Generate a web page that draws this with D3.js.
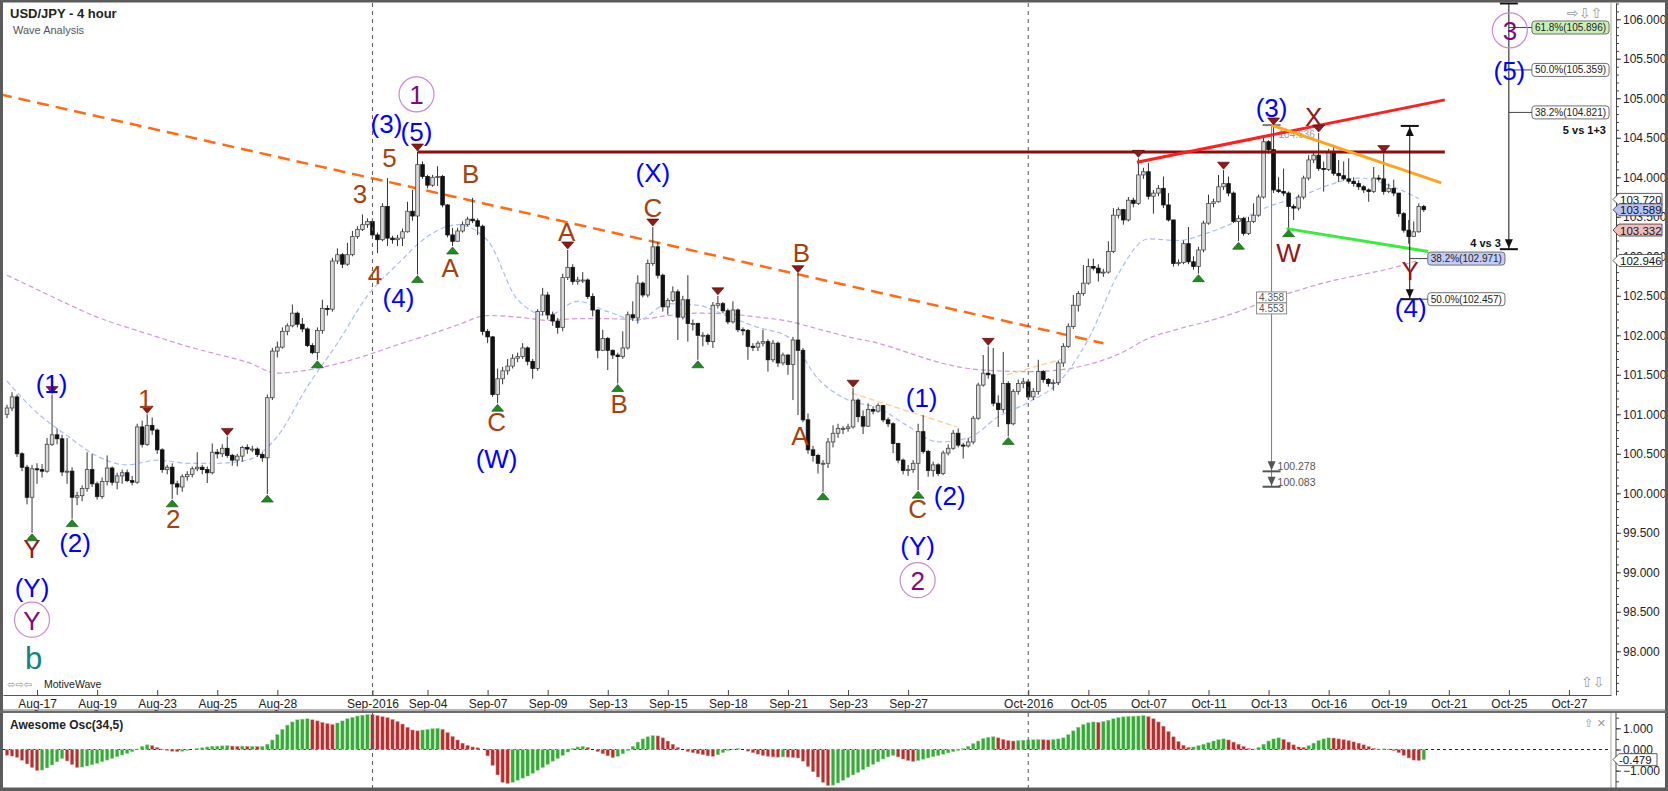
<!DOCTYPE html>
<html>
<head>
<meta charset="utf-8">
<script src="https://cdn.jsdelivr.net/npm/d3@7"></script>
<style>
  body { margin: 0; background: #fff; overflow: hidden; }
  svg { display: block; font-family: "Liberation Sans", Arial, sans-serif; }
</style>
</head>
<body>
<svg id="chart"></svg>
<script>
// ---- price data (4h bars, Aug 16 - Oct 20 2016), open = previous close ----
const firstOpen = 101.00;
const closes = [
  101.08,101.22,100.50,100.33,99.95,100.31,100.30,100.28,100.62,100.74,
  100.69,100.27,100.28,99.95,99.97,100.06,100.30,100.12,99.96,100.15,
  100.32,100.14,100.22,100.26,100.16,100.14,100.84,100.62,100.86,100.80,
  100.55,100.30,100.33,100.12,100.08,100.21,100.24,100.31,100.33,100.30,
  100.26,100.52,100.50,100.57,100.48,100.42,100.47,100.58,100.56,100.56,
  100.49,100.45,101.21,101.80,101.85,102.05,102.12,102.28,102.14,102.08,
  101.87,101.78,102.06,102.34,102.33,102.94,103.02,102.90,103.02,103.25,
  103.34,103.40,103.44,103.27,103.21,103.63,103.23,103.21,103.23,103.31,
  103.57,103.51,104.16,104.01,103.90,104.00,104.01,103.65,103.27,103.19,
  103.32,103.40,103.47,103.45,103.38,102.05,101.98,101.25,101.45,101.55,
  101.61,101.71,101.73,101.84,101.67,101.58,102.30,102.51,102.26,102.18,
  102.10,102.73,102.86,102.68,102.70,102.70,102.49,102.32,101.81,101.96,
  101.81,101.75,101.73,101.84,102.26,102.22,102.66,102.51,102.91,103.12,
  102.76,102.36,102.44,102.55,102.23,102.45,102.15,102.15,102.00,102.00,
  101.92,102.38,102.40,102.31,102.17,102.32,102.07,102.06,101.86,101.85,
  101.90,101.92,101.69,101.90,101.65,101.75,101.63,101.94,101.81,100.93,
  100.55,100.48,100.38,100.38,100.65,100.76,100.82,100.82,100.84,101.18,
  100.97,100.85,101.06,101.04,101.11,100.93,100.88,100.63,100.42,100.29,
  100.30,100.38,100.78,100.53,100.29,100.36,100.25,100.51,100.57,100.76,
  100.61,100.60,100.65,100.95,101.37,101.52,101.50,101.14,101.06,101.39,
  100.88,101.29,101.39,101.41,101.22,101.29,101.54,101.44,101.39,101.40,
  101.65,101.86,102.11,102.38,102.53,102.66,102.87,102.85,102.79,102.80,
  103.06,103.52,103.59,103.46,103.71,103.67,104.03,104.07,103.76,103.80,
  103.86,103.65,103.46,102.91,102.92,103.16,102.93,102.87,103.08,103.42,
  103.67,103.69,103.88,103.92,103.80,103.44,103.48,103.29,103.44,103.52,
  103.75,104.45,104.35,103.84,103.82,103.80,103.63,103.61,103.75,103.99,
  104.22,104.28,104.11,104.10,104.32,104.05,104.02,103.98,103.95,103.92,
  103.88,103.84,103.82,103.99,103.98,103.82,103.86,103.80,103.54,103.33,
  103.25,103.31,103.63,103.59
];
const highs = [
  101.12,101.28,101.25,100.52,100.36,100.36,100.38,100.37,100.70,101.25,
  100.82,100.74,100.70,100.33,100.02,100.10,100.52,100.50,100.15,100.20,
  100.48,100.34,100.26,100.30,100.30,100.22,100.88,100.92,101.00,100.96,
  100.82,100.57,100.36,100.38,100.16,100.24,100.28,100.34,100.52,100.36,
  100.34,100.63,100.56,100.62,100.72,100.50,100.50,100.60,100.62,100.60,
  100.58,100.52,101.25,101.84,101.92,102.10,102.15,102.39,102.30,102.22,
  102.10,101.90,102.10,102.45,102.38,102.98,103.10,103.04,103.17,103.32,
  103.38,103.53,103.48,103.48,103.30,103.67,103.99,103.26,103.27,103.35,
  103.69,103.84,104.32,104.20,104.03,104.03,104.14,104.03,103.66,103.36,
  103.36,103.44,103.50,103.74,103.48,103.40,102.08,101.99,101.58,101.60,
  101.70,101.76,101.78,101.90,101.86,101.70,102.33,102.60,102.55,102.30,
  102.22,102.78,103.08,102.90,102.74,102.80,102.72,102.53,102.33,102.07,
  101.98,101.82,101.78,102.05,102.30,102.43,102.76,102.68,102.96,103.37,
  103.18,102.78,102.47,102.62,102.58,102.50,102.76,102.20,102.16,102.04,
  102.02,102.42,102.50,102.42,102.34,102.43,102.34,102.10,102.08,101.90,
  101.93,102.07,101.95,101.94,101.92,101.78,101.76,101.98,102.78,101.84,
  101.01,100.60,100.50,100.42,100.70,100.86,100.88,100.85,100.88,101.33,
  101.20,101.05,101.14,101.10,101.14,101.12,100.96,100.90,100.64,100.44,
  100.36,100.42,100.88,100.99,100.55,100.40,100.38,100.54,100.62,100.80,
  100.82,100.64,100.70,100.98,101.40,101.75,101.86,101.84,101.24,101.79,
  101.42,101.32,101.44,101.46,101.44,101.33,101.69,101.56,101.46,101.44,
  101.68,101.90,102.15,102.51,102.56,102.89,102.97,102.97,102.90,102.84,
  103.19,103.61,103.62,103.60,103.75,103.74,104.24,104.12,104.18,103.84,
  103.90,104.01,103.80,103.46,102.96,103.20,103.37,103.00,103.12,103.45,
  103.78,103.73,104.03,104.09,104.01,103.82,103.52,103.50,103.50,103.67,
  103.78,104.51,104.47,104.65,104.00,104.11,103.82,103.66,103.78,104.02,
  104.28,104.32,104.56,104.20,104.36,104.41,104.22,104.20,104.24,104.00,
  103.96,103.90,103.86,104.13,104.03,104.30,103.92,103.97,103.80,103.56,
  103.46,103.44,103.67,103.65
];
const lows = [
  100.95,101.04,100.46,100.28,99.86,99.50,100.12,100.20,100.26,100.60,
  100.62,100.22,100.12,99.68,99.85,99.90,100.02,100.08,99.92,99.93,
  100.10,100.10,100.05,100.12,100.14,100.10,100.12,100.58,100.60,100.74,
  100.50,100.26,100.24,99.93,99.98,100.02,100.16,100.20,100.28,100.24,
  100.13,100.24,100.44,100.46,100.45,100.35,100.34,100.40,100.50,100.52,
  100.46,100.40,99.99,101.18,101.72,101.83,102.00,102.10,102.10,102.04,
  101.85,101.76,101.69,102.02,102.25,102.30,102.90,102.85,102.88,103.00,
  103.22,103.32,103.36,103.24,103.04,103.19,103.13,103.16,103.13,103.13,
  103.30,103.45,102.77,103.98,103.86,103.88,103.89,103.62,103.24,103.13,
  103.19,103.30,103.38,103.42,103.27,102.00,101.90,101.22,101.14,101.38,
  101.50,101.58,101.66,101.70,101.62,101.45,101.55,102.25,102.20,102.12,
  102.02,102.05,102.70,102.64,102.64,102.66,102.46,102.24,101.71,101.80,
  101.56,101.70,101.39,101.70,101.82,102.18,102.15,102.48,102.48,102.88,
  102.72,102.30,102.26,102.42,101.94,102.20,101.92,102.06,101.69,101.86,
  101.88,101.84,102.34,102.28,102.14,102.15,102.04,102.00,101.69,101.80,
  101.80,101.86,101.54,101.66,101.60,101.62,101.50,101.18,100.99,100.90,
  100.50,100.40,100.25,100.02,100.32,100.58,100.70,100.75,100.78,100.82,
  100.90,100.75,100.84,101.00,101.02,100.90,100.84,100.51,100.38,100.24,
  100.22,100.26,100.04,100.50,100.21,100.21,100.22,100.23,100.48,100.55,
  100.58,100.44,100.58,100.62,100.93,101.35,101.45,101.10,100.84,101.02,
  100.72,100.86,101.25,101.33,101.18,101.18,101.25,101.40,101.35,101.30,
  101.37,101.60,101.84,102.08,102.30,102.50,102.64,102.82,102.68,102.74,
  102.78,103.04,103.48,103.40,103.44,103.62,103.65,103.98,103.72,103.54,
  103.76,103.61,103.44,102.87,102.88,102.90,102.90,102.83,102.78,103.05,
  103.40,103.62,103.68,103.84,103.76,103.42,103.19,103.26,103.27,103.42,
  103.50,103.73,104.30,103.80,103.80,103.76,103.35,103.46,103.58,103.72,
  103.96,104.18,104.08,103.82,104.08,104.02,103.94,103.96,103.92,103.88,
  103.84,103.80,103.69,103.80,103.95,103.78,103.80,103.76,103.50,103.30,
  103.16,103.25,103.30,103.56
];

// Awesome Oscillator (34,5), one value per bar
const aoValues = [
  -0.27,-0.31,-0.37,-0.51,-0.68,-0.85,-0.99,-0.97,-0.87,-0.73,
  -0.58,-0.42,-0.54,-0.71,-0.85,-0.83,-0.78,-0.72,-0.65,-0.58,
  -0.50,-0.42,-0.34,-0.26,-0.18,-0.10,0.02,0.15,0.22,0.18,
  0.10,0.02,-0.04,-0.08,-0.10,-0.08,-0.04,0.00,0.05,0.08,
  0.12,0.15,0.16,0.17,0.18,0.16,0.15,0.16,0.15,0.15,
  0.14,0.15,0.25,0.45,0.70,0.95,1.15,1.30,1.40,1.43,
  1.45,1.40,1.35,1.28,1.22,1.18,1.25,1.35,1.45,1.52,
  1.58,1.62,1.65,1.64,1.60,1.55,1.50,1.42,1.32,1.20,
  1.05,0.92,0.88,0.92,0.95,0.98,1.00,0.95,0.80,0.62,
  0.45,0.30,0.20,0.12,0.08,0.00,-0.30,-0.75,-1.20,-1.55,
  -1.60,-1.55,-1.45,-1.35,-1.25,-1.12,-0.98,-0.85,-0.70,-0.55,
  -0.42,-0.28,-0.12,0.05,0.12,0.15,0.10,0.00,-0.10,-0.20,
  -0.30,-0.38,-0.32,-0.20,-0.05,0.15,0.35,0.50,0.60,0.65,
  0.64,0.55,0.40,0.25,0.10,0.00,-0.10,-0.15,-0.20,-0.25,
  -0.30,-0.32,-0.25,-0.15,-0.05,0.02,0.05,0.00,-0.08,-0.15,
  -0.22,-0.28,-0.32,-0.35,-0.36,-0.35,-0.36,-0.38,-0.40,-0.55,
  -0.80,-1.05,-1.30,-1.55,-1.70,-1.68,-1.58,-1.45,-1.32,-1.20,
  -1.08,-0.95,-0.82,-0.70,-0.58,-0.45,-0.35,-0.28,-0.35,-0.45,
  -0.52,-0.56,-0.52,-0.46,-0.40,-0.34,-0.28,-0.22,-0.16,-0.10,
  -0.04,0.05,0.15,0.28,0.40,0.52,0.58,0.60,0.55,0.48,
  0.42,0.40,0.42,0.44,0.45,0.46,0.47,0.46,0.45,0.47,
  0.50,0.55,0.70,0.88,1.05,1.18,1.26,1.30,1.28,1.32,
  1.38,1.45,1.50,1.54,1.56,1.57,1.58,1.60,1.55,1.45,
  1.30,1.10,0.85,0.60,0.38,0.20,0.10,0.12,0.18,0.25,
  0.32,0.40,0.46,0.50,0.45,0.35,0.25,0.15,0.05,0.02,
  0.10,0.25,0.40,0.50,0.55,0.48,0.35,0.22,0.12,0.10,
  0.18,0.30,0.42,0.50,0.55,0.54,0.50,0.46,0.42,0.36,
  0.30,0.22,0.14,0.06,0.02,0.03,0.02,-0.05,-0.15,-0.28,
  -0.40,-0.50,-0.52,-0.48
];

// moving averages, sampled every maStep bars
const maStep = 6;
const maFast = [101.42,101.02,100.73,100.47,100.36,100.42,100.38,100.38,100.42,100.72,
  101.35,101.90,102.50,102.90,103.25,103.40,103.20,102.45,102.25,102.43,
  102.30,102.19,102.40,102.38,102.24,102.10,101.98,101.45,101.18,101.08,
  100.85,100.65,100.70,100.97,101.15,101.40,101.95,102.78,103.22,103.20,
  103.30,103.45,103.63,103.75,103.90,103.99,103.90,103.73];
const maSlow = [102.76,102.58,102.40,102.23,102.10,101.98,101.86,101.76,101.66,101.52,
  101.56,101.64,101.75,101.88,102.00,102.13,102.25,102.23,102.19,102.21,
  102.21,102.20,102.25,102.28,102.27,102.23,102.18,102.08,101.98,101.90,
  101.78,101.66,101.58,101.55,101.54,101.56,101.63,101.76,101.96,102.08,
  102.18,102.30,102.45,102.57,102.68,102.76,102.84,102.95];

// date axis (bar index of first bar of the day)
const tickIdx = [6,18,30,42,54,73,84,96,108,120,132,144,156,168,180,204,216,228,240,252,264,276,288,300,312];
const tickLabels = ["Aug-17","Aug-19","Aug-23","Aug-25","Aug-28","Sep-2016","Sep-04","Sep-07","Sep-09","Sep-13",
  "Sep-15","Sep-18","Sep-21","Sep-23","Sep-27","Oct-2016","Oct-05","Oct-07","Oct-11","Oct-13",
  "Oct-16","Oct-19","Oct-21","Oct-25","Oct-27"];
const monthLines = [73, 204];
const priceTicks = d3.range(98, 106.001, 0.5);
const oscTicks = [-1, 0, 1];

// swing markers
const peakBars = [9,28,44,82,112,129,142,158,169,196,226,243,253,262,275];
const troughBars = [5,13,33,52,62,82,89,98,122,138,163,182,200,238,246,256];

// wave labels: text, bar, price, kind
const waveLabels = [
  ["(1)",8.9,101.40,"blue"], ["1",27.6,101.21,"brown"], ["Y",5,99.31,"dred"],
  ["(2)",13.6,99.38,"blue"], ["2",33.2,99.69,"brown"], ["(Y)",5,98.82,"blue"],
  ["Y",5,98.40,"circle"], ["b",5.3,97.92,"teal"],
  ["3",70.5,103.80,"brown"], ["5",76.4,104.26,"brown"], ["4",73.5,102.77,"brown"],
  ["(3)",75.8,104.69,"blue"], ["(5)",81.8,104.58,"blue"], ["1",81.8,105.05,"circle"],
  ["(4)",78.2,102.49,"blue"], ["A",88.5,102.87,"brown"], ["B",92.6,104.05,"brown"],
  ["C",97.8,100.91,"brown"], ["(W)",97.8,100.45,"blue"], ["A",111.8,103.32,"brown"],
  ["(X)",129,104.07,"blue"], ["C",129,103.63,"brown"], ["B",122.3,101.14,"brown"],
  ["B",158.7,103.06,"brown"], ["A",158.4,100.74,"brown"],
  ["(1)",182.7,101.22,"blue"], ["(2)",188.3,99.98,"blue"], ["C",181.9,99.81,"brown"],
  ["(Y)",181.9,99.35,"blue"], ["2",181.9,98.90,"circle"],
  ["(3)",252.6,104.89,"blue"], ["X",261,104.77,"dred"], ["W",256,103.06,"dred"],
  ["Y",280.3,102.83,"dred"], ["(4)",280.4,102.36,"blue"],
  ["3",300.2,105.86,"circle"], ["(5)",300.1,105.36,"blue"]
];

// drawn lines: [bar, price] pairs
const dashedTrend = [[-1.4,105.05],[219,101.90]];
const resistanceLine = [[82,104.32],[287.2,104.32]];
const upperChannel = [[225.7,104.19],[287.2,104.98]];
const fallingLine = [[252.6,104.66],[286.5,103.93]];
const supportLine = [[255.6,103.35],[283.9,103.06]];
const minorDash1 = [[168.7,101.27],[189.7,100.84]];
const minorDash2 = [[199.7,101.50],[211.4,101.71]];

// fib / measure tools
const grayMeasure = { bar: 252.6, top: 104.66, levels: [100.278, 100.083], boxes: ["4.358","4.553"], boxPrice: 102.41 };
const wave4Measure = { bar: 280.2, top: 104.65, bottom: 102.457 };
const wave4Levels = [102.971, 102.457];
const wave4Pct = ["38.2%", "50.0%"];
const wave5Measure = { bar: 300, top: 106.2, bottom: 103.09 };
const wave5Levels = [105.896, 105.359, 104.821];
const wave5Pct = ["61.8%", "50.0%", "38.2%"];

// price tags on the axis
const priceTags = [103.720, 103.589, 103.332, 102.946];
const aoLast = -0.479;

class WaveChart {
  constructor(_config) {
    this.config = {
      parentElement: _config.parentElement,
      width: 1668,
      height: 791,
      plot: { left: 3, right: 1611, top: 3, bottom: 695 },
      osc: { top: 713, bottom: 788 },
      axisX: 1616
    };
    this.initVis();
  }

  initVis() {
    let vis = this;
    const c = vis.config;

    vis.svg = d3.select(c.parentElement)
      .attr('width', c.width)
      .attr('height', c.height);

    vis.xScale = d3.scaleLinear().domain([-0.8, 320.4]).range([c.plot.left, c.plot.right]);
    vis.yScale = d3.scaleLinear().domain([97.447, 106.206]).range([c.plot.bottom, c.plot.top]);
    vis.oscScale = d3.scaleLinear().domain([-1, 1]).range([770.7, 728.3]);

    vis.svg.append('rect').attr('width', c.width).attr('height', c.height).attr('fill', '#fff');

    vis.svg.append('defs').append('clipPath').attr('id', 'plot-clip')
      .append('rect')
      .attr('x', c.plot.left).attr('y', c.plot.top)
      .attr('width', c.plot.right - c.plot.left).attr('height', c.plot.bottom - c.plot.top);

    vis.plot = vis.svg.append('g').attr('clip-path', 'url(#plot-clip)');
    vis.osc = vis.svg.append('g');
    vis.axes = vis.svg.append('g');

    vis.renderVis();
  }

  line(pts) {
    let vis = this;
    return d3.line().x(d => vis.xScale(d[0])).y(d => vis.yScale(d[1]))(pts);
  }

  renderVis() {
    let vis = this;
    const c = vis.config;
    const x = vis.xScale, y = vis.yScale;

    // month separators (main + oscillator)
    monthLines.forEach(m => {
      vis.svg.append('line')
        .attr('x1', x(m)).attr('x2', x(m)).attr('y1', c.plot.top).attr('y2', c.plot.bottom)
        .attr('stroke', '#555').attr('stroke-dasharray', '4,4');
      vis.svg.append('line')
        .attr('x1', x(m)).attr('x2', x(m)).attr('y1', c.osc.top).attr('y2', c.osc.bottom)
        .attr('stroke', '#555').attr('stroke-dasharray', '4,4');
    });

    // moving averages
    const maLine = d3.line().curve(d3.curveMonotoneX)
      .x((d, k) => x(k * maStep)).y(d => y(d));
    vis.plot.append('path').attr('d', maLine(maSlow))
      .attr('fill', 'none').attr('stroke', '#cf9ad3').attr('stroke-width', 1.2).attr('stroke-dasharray', '5,3');
    vis.plot.append('path').attr('d', maLine(maFast))
      .attr('fill', 'none').attr('stroke', '#a9bdfb').attr('stroke-width', 1.2).attr('stroke-dasharray', '5,3');

    // long dashed trendline + faint helper lines
    vis.plot.append('path').attr('d', vis.line(dashedTrend))
      .attr('stroke', '#ff6a13').attr('stroke-width', 2.5).attr('stroke-dasharray', '12,7').attr('fill', 'none');
    [minorDash1, minorDash2].forEach(p => {
      vis.plot.append('path').attr('d', vis.line(p))
        .attr('stroke', '#ffcb96').attr('stroke-width', 1.3).attr('stroke-dasharray', '6,3').attr('fill', 'none');
    });

    // measuring line behind candles (gray)
    vis.renderGrayMeasure();

    // candles
    vis.candles = closes.map((cl, k) => {
      const o = k === 0 ? firstOpen : closes[k - 1];
      return { i: k, o: o, c: cl, h: Math.max(highs[k], o, cl), l: Math.min(lows[k], o, cl) };
    });
    const bodyW = 3.6;
    vis.plot.selectAll('.wick').data(vis.candles).join('line')
      .attr('class', 'wick')
      .attr('x1', d => x(d.i)).attr('x2', d => x(d.i))
      .attr('y1', d => y(d.h)).attr('y2', d => y(d.l))
      .attr('stroke', '#333').attr('stroke-width', 1);
    vis.plot.selectAll('.body').data(vis.candles).join('rect')
      .attr('class', 'body')
      .attr('x', d => x(d.i) - bodyW / 2)
      .attr('width', bodyW)
      .attr('y', d => y(Math.max(d.o, d.c)))
      .attr('height', d => Math.max(1, Math.abs(y(d.o) - y(d.c))))
      .attr('fill', d => d.c >= d.o ? '#d9d9d9' : '#111')
      .attr('stroke', d => d.c >= d.o ? '#444' : '#111')
      .attr('stroke-width', 0.8);

    // solid lines on top
    vis.plot.append('path').attr('d', vis.line(resistanceLine))
      .attr('stroke', '#8e0d0d').attr('stroke-width', 3).attr('fill', 'none');
    vis.plot.append('path').attr('d', vis.line(upperChannel))
      .attr('stroke', '#ff1f1f').attr('stroke-width', 3).attr('fill', 'none');
    vis.plot.append('path').attr('d', vis.line(fallingLine))
      .attr('stroke', '#ffa31a').attr('stroke-width', 3).attr('fill', 'none');
    vis.plot.append('path').attr('d', vis.line(supportLine))
      .attr('stroke', '#38ec38').attr('stroke-width', 3).attr('fill', 'none');

    // swing markers
    vis.plot.selectAll('.peak').data(peakBars).join('path')
      .attr('class', 'peak')
      .attr('d', i => `M${x(i) - 6},${y(vis.candles[i].h) - 8}L${x(i) + 6},${y(vis.candles[i].h) - 8}L${x(i)},${y(vis.candles[i].h) - 1}Z`)
      .attr('fill', '#8b1a1a').attr('stroke', '#4d0000').attr('stroke-width', 0.6);
    vis.plot.selectAll('.trough').data(troughBars).join('path')
      .attr('class', 'trough')
      .attr('d', i => `M${x(i) - 6},${y(vis.candles[i].l) + 8}L${x(i) + 6},${y(vis.candles[i].l) + 8}L${x(i)},${y(vis.candles[i].l) + 1}Z`)
      .attr('fill', '#1e8c1e').attr('stroke', '#0b4d0b').attr('stroke-width', 0.6);

    vis.renderMeasures();
    vis.renderLabels();
    vis.renderAxes();
    vis.renderOsc();
    vis.renderFrame();
  }

  renderGrayMeasure() {
    let vis = this;
    const x = vis.xScale, y = vis.yScale;
    const m = grayMeasure;
    const gx = x(m.bar);
    const g = vis.plot.append('g');
    g.append('line').attr('x1', gx).attr('x2', gx)
      .attr('y1', y(m.top)).attr('y2', y(m.levels[1]))
      .attr('stroke', '#7a7a7a').attr('stroke-width', 1);
    g.append('line').attr('x1', gx - 9).attr('x2', gx + 9).attr('y1', y(m.top)).attr('y2', y(m.top))
      .attr('stroke', '#7a7a7a').attr('stroke-width', 2);
    m.levels.forEach(v => {
      const ly = y(v);
      g.append('path').attr('d', `M${gx - 4},${ly - 10}L${gx + 4},${ly - 10}L${gx},${ly - 1}Z`).attr('fill', '#555');
      g.append('line').attr('x1', gx - 9).attr('x2', gx + 9).attr('y1', ly).attr('y2', ly)
        .attr('stroke', '#555').attr('stroke-width', 2);
      g.append('text').attr('x', gx + 6).attr('y', ly - 5).attr('font-size', 10.5).attr('fill', '#555')
        .attr('dominant-baseline', 'central').text(v.toFixed(3));
    });
    // stacked distance boxes
    m.boxes.forEach((t, k) => {
      const by = y(m.boxPrice) - 11 + k * 11;
      g.append('rect').attr('x', gx - 15).attr('y', by).attr('width', 30).attr('height', 11)
        .attr('fill', '#fff').attr('stroke', '#8a8a8a');
      g.append('text').attr('x', gx).attr('y', by + 5.8).attr('text-anchor', 'middle')
        .attr('dominant-baseline', 'central').attr('font-size', 10).attr('fill', '#555').text(t);
    });
    g.append('text').attr('x', gx + 7).attr('y', y(104.54)).attr('font-size', 10).attr('fill', '#9a9a9a')
      .attr('dominant-baseline', 'central').text('104.636');
  }

  fibBox(g, bx, by, text, fill) {
    const t = g.append('text').attr('x', bx + 3).attr('y', by).attr('font-size', 10)
      .attr('dominant-baseline', 'central').attr('fill', '#222').text(text);
    const w = t.node().getComputedTextLength() + 6;
    g.insert('rect', 'text').attr('x', bx).attr('y', by - 6.5).attr('width', w).attr('height', 13)
      .attr('rx', 3).attr('fill', fill).attr('stroke', '#707070');
  }

  renderMeasures() {
    let vis = this;
    const x = vis.xScale, y = vis.yScale;
    const g = vis.svg.append('g');

    // wave 4 retracement tool
    const a = wave4Measure, ax = x(a.bar);
    g.append('line').attr('x1', ax).attr('x2', ax).attr('y1', y(a.top)).attr('y2', y(a.bottom))
      .attr('stroke', '#111').attr('stroke-width', 1);
    g.append('line').attr('x1', ax - 9).attr('x2', ax + 9).attr('y1', y(a.top)).attr('y2', y(a.top))
      .attr('stroke', '#111').attr('stroke-width', 2);
    g.append('path').attr('d', `M${ax - 4},${y(a.top) + 10}L${ax + 4},${y(a.top) + 10}L${ax},${y(a.top) + 1}Z`).attr('fill', '#111');
    g.append('line').attr('x1', ax - 9).attr('x2', ax + 9).attr('y1', y(a.bottom)).attr('y2', y(a.bottom))
      .attr('stroke', '#111').attr('stroke-width', 2);
    g.append('path').attr('d', `M${ax - 4},${y(a.bottom) - 10}L${ax + 4},${y(a.bottom) - 10}L${ax},${y(a.bottom) - 1}Z`).attr('fill', '#111');
    wave4Levels.forEach((v, k) => {
      g.append('line').attr('x1', ax).attr('x2', x(283.8)).attr('y1', y(v)).attr('y2', y(v))
        .attr('stroke', '#444').attr('stroke-width', 1);
      vis.fibBox(g, x(283.8), y(v), `${wave4Pct[k]}(${v.toFixed(3)})`, k === 0 ? '#c5cdf7' : '#fff');
    });

    // wave 5 projection tool
    const b = wave5Measure, bx = x(b.bar);
    g.append('line').attr('x1', bx).attr('x2', bx).attr('y1', y(b.top)).attr('y2', y(b.bottom))
      .attr('stroke', '#111').attr('stroke-width', 1);
    g.append('line').attr('x1', bx - 9).attr('x2', bx + 9).attr('y1', y(b.top)).attr('y2', y(b.top))
      .attr('stroke', '#111').attr('stroke-width', 2);
    g.append('line').attr('x1', bx - 9).attr('x2', bx + 9).attr('y1', y(b.bottom)).attr('y2', y(b.bottom))
      .attr('stroke', '#111').attr('stroke-width', 2);
    g.append('path').attr('d', `M${bx - 4},${y(b.bottom) - 10}L${bx + 4},${y(b.bottom) - 10}L${bx},${y(b.bottom) - 1}Z`).attr('fill', '#111');
    wave5Levels.forEach((v, k) => {
      g.append('line').attr('x1', bx).attr('x2', x(304.6)).attr('y1', y(v)).attr('y2', y(v))
        .attr('stroke', '#444').attr('stroke-width', 1);
      vis.fibBox(g, x(304.6), y(v), `${wave5Pct[k]}(${v.toFixed(3)})`, k === 0 ? '#c9efb9' : '#fff');
    });

    g.append('text').attr('x', x(319.4)).attr('y', y(104.60)).attr('text-anchor', 'end')
      .attr('font-size', 11).attr('font-weight', 'bold').attr('fill', '#111')
      .attr('dominant-baseline', 'central').text('5 vs 1+3');
    g.append('text').attr('x', x(298.4)).attr('y', y(103.17)).attr('text-anchor', 'end')
      .attr('font-size', 11).attr('font-weight', 'bold').attr('fill', '#111')
      .attr('dominant-baseline', 'central').text('4 vs 3');
  }

  renderLabels() {
    let vis = this;
    const x = vis.xScale, y = vis.yScale;
    const colors = { blue: '#0000ff', brown: '#a3420f', dred: '#8e1a1a', circle: '#7e0a80', teal: '#0f8282' };
    const g = vis.svg.append('g');
    waveLabels.forEach(([t, i, p, kind]) => {
      if (kind === 'circle') {
        g.append('circle').attr('cx', x(i)).attr('cy', y(p)).attr('r', 17.5)
          .attr('fill', 'none').attr('stroke', '#c88bcc').attr('stroke-width', 1.2);
      }
      g.append('text')
        .attr('x', x(i)).attr('y', y(p) + 1)
        .attr('text-anchor', 'middle').attr('dominant-baseline', 'central')
        .attr('font-size', kind === 'teal' ? 31 : 26)
        .attr('fill', colors[kind])
        .text(t);
    });
  }

  renderAxes() {
    let vis = this;
    const c = vis.config;

    // price axis
    const minor = d3.range(97.5, 106.201, 0.1);
    vis.axes.append('g').attr('transform', `translate(${c.axisX},0)`)
      .call(d3.axisRight(vis.yScale).tickValues(minor).tickSize(3).tickFormat('').tickSizeOuter(0))
      .call(g => g.select('.domain').attr('stroke', '#444'))
      .call(g => g.selectAll('.tick line').attr('stroke', '#444'));
    vis.axes.append('g').attr('transform', `translate(${c.axisX},0)`)
      .call(d3.axisRight(vis.yScale).tickValues(priceTicks).tickSize(5).tickPadding(2)
        .tickFormat(d3.format('.3f')).tickSizeOuter(0))
      .call(g => g.select('.domain').remove())
      .call(g => g.selectAll('.tick line').attr('stroke', '#444'))
      .call(g => g.selectAll('text').attr('font-size', 12).attr('fill', '#222')
        .attr('font-family', '"Liberation Sans", Arial, sans-serif'));

    // date axis, ticks pointing up into the plot
    vis.axes.append('g').attr('transform', `translate(0,${c.plot.bottom})`)
      .call(d3.axisBottom(vis.xScale).tickValues(tickIdx).tickSize(-5).tickPadding(4)
        .tickFormat((d, k) => tickLabels[k]).tickSizeOuter(0))
      .call(g => g.select('.domain').attr('stroke', '#555'))
      .call(g => g.selectAll('.tick line').attr('stroke', '#444'))
      .call(g => g.selectAll('text').attr('font-size', 12).attr('fill', '#222')
        .attr('font-family', '"Liberation Sans", Arial, sans-serif'));
    vis.axes.append('line').attr('x1', 0).attr('x2', c.width).attr('y1', 709.5).attr('y2', 709.5)
      .attr('stroke', '#b8b8b8');

    // tags on the price axis
    const tagFill = ['#fff', '#b9c1f3', '#f3bcbc', '#fff'];
    priceTags.forEach((v, k) => vis.tag(vis.yScale(v), v.toFixed(3), tagFill[k]));
  }

  tag(ty, text, fill) {
    let vis = this;
    const x0 = vis.config.axisX - 3;
    vis.axes.append('path')
      .attr('d', `M${x0},${ty}L${x0 + 6},${ty - 6}L${x0 + 49},${ty - 6}L${x0 + 49},${ty + 6}L${x0 + 6},${ty + 6}Z`)
      .attr('fill', fill).attr('stroke', '#333').attr('stroke-width', 0.8);
    vis.axes.append('text').attr('x', x0 + 7).attr('y', ty + 0.5).attr('dominant-baseline', 'central')
      .attr('font-size', 11.5).attr('fill', '#111').text(text);
  }

  renderOsc() {
    let vis = this;
    const c = vis.config;
    const x = vis.xScale, o = vis.oscScale;

    vis.osc.append('line').attr('x1', c.plot.left).attr('x2', c.plot.right)
      .attr('y1', o(0)).attr('y2', o(0)).attr('stroke', '#222').attr('stroke-dasharray', '3,3');

    const bars = aoValues.map((v, k) => ({ i: k, v: v, up: k > 0 && v >= aoValues[k - 1] }));
    vis.osc.selectAll('.ao').data(bars).join('rect')
      .attr('class', 'ao')
      .attr('x', d => x(d.i) - 1.7)
      .attr('width', 3.4)
      .attr('y', d => Math.min(o(0), o(d.v)))
      .attr('height', d => Math.abs(o(d.v) - o(0)))
      .attr('fill', d => d.up ? '#38a838' : '#b3302f')
      .attr('stroke', d => d.up ? '#8fd68f' : '#e29a9a')
      .attr('stroke-width', 0.5);

    vis.osc.append('g').attr('transform', `translate(${c.axisX},0)`)
      .call(d3.axisRight(o).tickValues(d3.range(-1.5, 1.51, 0.5)).tickSize(3).tickFormat('').tickSizeOuter(0))
      .call(g => g.select('.domain').remove())
      .call(g => g.selectAll('.tick line').attr('stroke', '#444'));
    vis.osc.append('g').attr('transform', `translate(${c.axisX},0)`)
      .call(d3.axisRight(o).tickValues(oscTicks).tickSize(5).tickPadding(2)
        .tickFormat(d3.format('.3f')).tickSizeOuter(0))
      .call(g => g.select('.domain').remove())
      .call(g => g.selectAll('.tick line').attr('stroke', '#444'))
      .call(g => g.selectAll('text').attr('font-size', 12).attr('fill', '#222')
        .attr('font-family', '"Liberation Sans", Arial, sans-serif'));
    vis.osc.append('line').attr('x1', c.axisX).attr('x2', c.axisX).attr('y1', c.osc.top).attr('y2', c.osc.bottom)
      .attr('stroke', '#444');

    // last value tag
    const ty = o(aoLast), x0 = c.axisX - 3;
    vis.osc.append('path')
      .attr('d', `M${x0},${ty}L${x0 + 6},${ty - 6}L${x0 + 44},${ty - 6}L${x0 + 44},${ty + 6}L${x0 + 6},${ty + 6}Z`)
      .attr('fill', '#fff').attr('stroke', '#333').attr('stroke-width', 0.8);
    vis.osc.append('text').attr('x', x0 + 6).attr('y', ty + 0.5).attr('dominant-baseline', 'central')
      .attr('font-size', 11.5).attr('fill', '#111').text(aoLast.toFixed(3));

    vis.osc.append('text').attr('x', 10).attr('y', 724.5).attr('font-size', 12).attr('font-weight', 'bold')
      .attr('fill', '#222').attr('dominant-baseline', 'central').text('Awesome Osc(34,5)');
    vis.osc.append('text').attr('x', 1584).attr('y', 723).attr('font-size', 11)
      .attr('font-family', '"DejaVu Sans", sans-serif').attr('fill', '#999')
      .attr('dominant-baseline', 'central').text('⇧ ✕');
  }

  renderFrame() {
    let vis = this;
    const c = vis.config;
    const f = vis.svg.append('g');
    // panel borders
    f.append('line').attr('x1', c.plot.right).attr('x2', c.plot.right).attr('y1', c.plot.top).attr('y2', c.plot.bottom)
      .attr('stroke', '#c9c9b9').attr('stroke-width', 1.5);
    f.append('line').attr('x1', c.plot.right).attr('x2', c.plot.right).attr('y1', c.osc.top).attr('y2', c.osc.bottom)
      .attr('stroke', '#c9c9b9').attr('stroke-width', 1.5);
    f.append('rect').attr('x', 0).attr('y', 0).attr('width', c.width).attr('height', 2.5).attr('fill', '#5b5b5b');
    f.append('rect').attr('x', 0).attr('y', 0).attr('width', 3).attr('height', c.height).attr('fill', '#5b5b5b');
    f.append('rect').attr('x', c.width - 3).attr('y', 0).attr('width', 3).attr('height', c.height).attr('fill', '#5b5b5b');
    f.append('rect').attr('x', 0).attr('y', 710.5).attr('width', c.width).attr('height', 2.5).attr('fill', '#6a6a6a');
    f.append('rect').attr('x', 0).attr('y', c.height - 3.5).attr('width', c.width).attr('height', 3.5).attr('fill', '#5b5b5b');

    // title block
    f.append('text').attr('x', 10).attr('y', 18).attr('font-size', 13).attr('font-weight', 'bold')
      .attr('fill', '#222').text('USD/JPY - 4 hour');
    f.append('text').attr('x', 13).attr('y', 34).attr('font-size', 11).attr('fill', '#555').text('Wave Analysis');

    // little widgets
    f.append('text').attr('x', 1567).attr('y', 13).attr('font-size', 14)
      .attr('font-family', '"DejaVu Sans", sans-serif').attr('fill', '#999')
      .attr('dominant-baseline', 'central').text('⇨⇩⇧');
    f.append('text').attr('x', 1581).attr('y', 682).attr('font-size', 14)
      .attr('font-family', '"DejaVu Sans", sans-serif').attr('fill', '#999')
      .attr('dominant-baseline', 'central').text('⇧⇩');
    f.append('text').attr('x', 7).attr('y', 684).attr('font-size', 10)
      .attr('font-family', '"DejaVu Sans", sans-serif').attr('fill', '#888')
      .attr('dominant-baseline', 'central').text('⬄⇨⇦');
    f.append('text').attr('x', 44).attr('y', 684).attr('font-size', 10.5).attr('fill', '#222')
      .attr('dominant-baseline', 'central').text('MotiveWave');
  }
}

new WaveChart({ parentElement: '#chart' });
</script>
</body>
</html>
